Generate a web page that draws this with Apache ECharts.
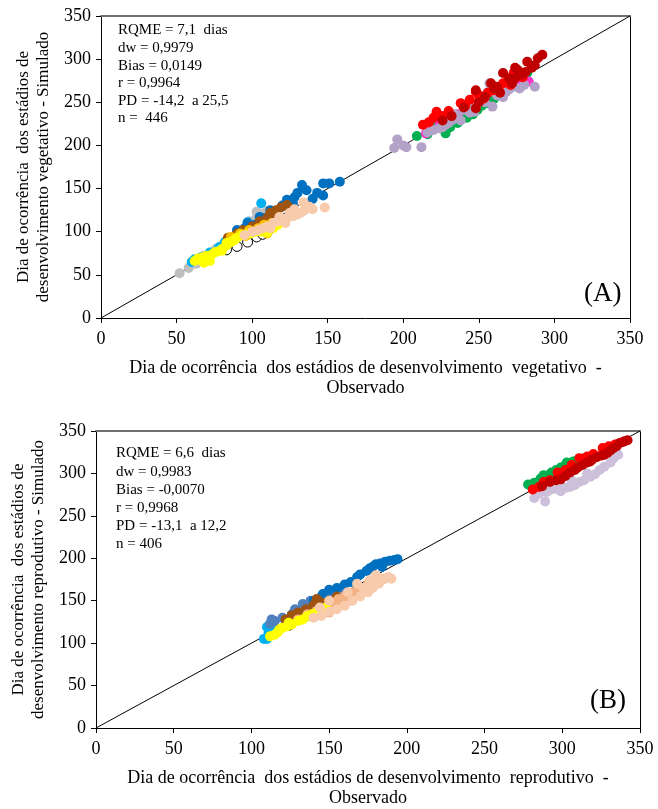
<!DOCTYPE html>
<html>
<head>
<meta charset="utf-8">
<script src="https://cdn.jsdelivr.net/npm/echarts@6/dist/echarts.min.js"></script>
<style>
  html, body { margin: 0; padding: 0; background: #fff; }
  #chart { width: 658px; height: 809px; }
</style>
</head>
<body>
<div id="chart"></div>
<script>
// Axis ticks shared by both panels
const axisTicks = [0, 50, 100, 150, 200, 250, 300, 350];

// Panel A — vegetative stages: [observed, simulated] day pairs per group
const vegGray = [[52,52],[58,58],[60,62],[63,63],[68,72],[70,70],[72,74],[76,80],[80,84],[84,88],[86,94],[88,92],[92,97],[96,100],[98,112],[100,106],[103,116],[103,123],[107,121],[110,124],[120,131]];
const vegLightBlue = [[60,65],[62,68],[66,70],[72,76],[78,82],[82,88],[90,98],[97,111],[100,104],[106,133]];
const vegBlue = [[90,102],[95,104],[97,110],[102,108],[105,117],[108,116],[112,125],[116,122],[120,130],[123,137],[127,133],[128,140],[130,145],[133,154],[136,148],[140,138],[143,145],[147,142],[147,156],[151,156],[158,158]];
const vegBrown = [[84,93],[90,98],[94,102],[100,106],[105,112],[110,116],[112,122],[114,120],[116,125],[119,128],[123,131],[125,127]];
const vegOrange = [[86,94],[92,98],[96,95],[98,102],[104,104],[108,108],[110,98],[113,110],[118,112]];
const vegOpen = [[83,79],[90,83],[97,88],[103,94],[107,97],[110,100]];
const vegYellow = [[62,66],[64,69],[67,70],[68,64],[70,72],[72,66],[73,73],[75,76],[77,77],[80,78],[80,80],[83,84],[83,87],[86,88],[88,90],[90,93],[93,96],[96,97],[99,98],[102,100],[106,100],[110,99],[114,104],[117,108],[120,111]];
const vegPeach = [[95,96],[100,100],[104,102],[107,104],[110,106],[112,104],[114,110],[117,112],[118,117],[120,113],[122,110],[123,116],[125,122],[127,118],[128,126],[130,120],[132,122],[134,124],[134,134],[136,127],[138,129],[140,126],[148,128]];
const vegGreen = [[209,211],[216,213],[220,226],[222,222],[228,214],[231,221],[236,226],[240,238],[242,232],[246,236],[249,241],[252,246],[256,249],[260,254],[265,262],[270,270],[276,276],[282,284]];
const vegMagenta = [[215,214],[218,218],[224,224],[236,236],[246,248],[254,255],[262,263],[267,262],[276,272],[283,274]];
const vegLavender = [[194,197],[196,207],[200,200],[202,198],[212,198],[216,215],[220,218],[224,220],[226,221],[228,224],[230,226],[232,229],[234,236],[236,232],[238,229],[240,241],[244,238],[244,246],[247,239],[248,245],[251,258],[254,250],[256,262],[257,272],[259,245],[262,258],[266,256],[268,262],[270,265],[273,268],[277,266],[280,270],[287,268]];
const vegRed = [[213,224],[217,227],[220,232],[222,239],[226,234],[230,240],[238,249],[241,246],[244,253],[248,262],[250,258],[253,254],[256,261],[260,264],[263,267],[266,272],[269,274],[271,270],[273,284],[276,282],[279,279]];
const vegDarkRed = [[226,229],[232,234],[240,244],[248,243],[248,264],[250,250],[254,256],[258,272],[260,266],[262,268],[264,261],[266,284],[270,278],[272,272],[274,278],[274,290],[276,287],[278,282],[281,285],[282,297],[285,290],[287,293],[289,301],[292,305]];

// Panel B — reproductive stages
const repLightBlue = [[108,105],[110,105],[110,119],[111,112],[113,116],[116,113],[122,122],[128,128],[134,133]];
const repSteelBlue = [[112,123],[113,128],[115,126],[120,130],[126,134],[128,140],[133,146],[138,150],[145,155],[152,160],[158,165]];
const repBlue = [[140,150],[146,158],[150,163],[155,165],[160,169],[164,172],[168,178],[170,181],[174,185],[176,188],[178,190],[180,193],[183,194],[184,190],[186,196],[189,197],[192,198],[194,199]];
const repBrown = [[122,128],[126,133],[130,136],[135,140],[140,145],[142,152],[145,148],[150,150],[155,155]];
const repOrange = [[130,128],[136,134],[142,138],[148,142],[150,136],[152,148],[156,152],[158,148],[160,155],[164,150],[165,160],[170,165],[175,170],[180,172],[185,176]];
const repOpen = [[117,115],[124,121],[135,132],[140,142],[150,150]];
const repYellow = [[112,108],[115,110],[117,113],[118,116],[120,118],[123,120],[124,124],[126,122],[130,126],[133,128],[136,132],[139,134],[142,136],[145,140],[148,142]];
const repPeach = [[140,130],[144,142],[145,132],[150,137],[150,150],[155,140],[160,144],[162,160],[165,150],[168,170],[170,155],[172,165],[175,160],[176,174],[178,165],[180,180],[182,170],[185,175],[188,178],[190,176]];
const repGreen = [[278,287],[282,289],[284,285],[286,294],[288,298],[291,297],[293,301],[296,304],[299,307],[302,310],[303,313],[307,314],[310,316],[314,318]];
const repLavender = [[282,271],[285,276],[289,267],[290,278],[293,281],[296,282],[298,288],[299,279],[302,283],[305,284],[306,292],[308,286],[311,290],[314,292],[316,300],[318,296],[321,299],[324,304],[327,308],[331,313],[333,318],[336,322]];
const repRed = [[281,281],[285,284],[288,290],[292,292],[297,301],[302,304],[306,310],[311,318],[316,320],[320,323],[326,330],[330,332],[334,334],[339,337]];
const repDarkRed = [[287,285],[292,290],[296,292],[299,293],[302,297],[305,301],[308,304],[310,307],[313,310],[316,313],[318,314],[319,316],[322,319],[325,321],[327,322],[329,324],[331,327],[333,330],[335,332],[337,336],[340,338],[342,339]];

// 1:1 reference line
const identityLine = [[0,0],[350,350]];

const statsA = ['RQME = 7,1  dias', 'dw = 0,9979', 'Bias = 0,0149', 'r = 0,9964', 'PD = -14,2  a 25,5', 'n =  446'];
const statsB = ['RQME = 6,6  dias', 'dw = 0,9983', 'Bias = -0,0070', 'r = 0,9968', 'PD = -13,1  a 12,2', 'n = 406'];

const FONT = '"Liberation Serif", "Times New Roman", serif';

function scatter(data, color, idx, opts) {
  opts = opts || {};
  return {
    type: 'scatter',
    xAxisIndex: idx, yAxisIndex: idx,
    data: data,
    symbolSize: 10,
    silent: true,
    itemStyle: {
      color: color,
      borderColor: opts.border || color,
      borderWidth: opts.border ? 1 : 0,
      opacity: 1
    },
    z: 3
  };
}

function valueAxis(idx, name, isX) {
  return {
    type: 'value',
    gridIndex: idx,
    min: 0, max: 350, interval: 50,
    name: name,
    nameLocation: 'middle',
    nameGap: isX ? 40 : 47,
    nameTextStyle: { fontFamily: FONT, fontSize: isX ? 18 : 17, color: '#000', lineHeight: 20 },
    axisLine: { show: true, onZero: false, lineStyle: { color: '#000', width: 1 } },
    axisTick: { show: true, inside: false, length: 5, lineStyle: { color: '#000' } },
    axisLabel: {
      fontFamily: FONT, fontSize: 18, color: '#000', margin: isX ? 12 : 10,
      formatter: v => axisTicks.includes(v) ? String(v) : ''
    },
    splitLine: { show: false }
  };
}

function frameAxis(idx, isX) {
  return {
    type: 'value',
    gridIndex: idx,
    position: isX ? 'top' : 'right',
    min: 0, max: 350,
    axisLine: { show: true, onZero: false, lineStyle: isX ? { color: '#6e6e6e', width: 2 } : { color: '#000', width: 1 } },
    axisTick: { show: false },
    axisLabel: { show: false },
    splitLine: { show: false }
  };
}

function statsText(lines, left, top, gap) {
  return lines.map((t, i) => ({
    type: 'text', left: left, top: top + i * gap,
    style: { text: t, font: '15px ' + FONT, fill: '#000' }
  }));
}

const chart = echarts.init(document.getElementById('chart'), null, { renderer: 'canvas' });

chart.setOption({
  backgroundColor: '#fff',
  animation: false,
  grid: [
    { left: 101, right: 28, top: 16, bottom: 491 },
    { left: 96, right: 18, top: 431, bottom: 80 }
  ],
  xAxis: [
    valueAxis(0, 'Dia de ocorrência  dos estádios de desenvolvimento  vegetativo  -\nObservado', true),
    valueAxis(1, 'Dia de ocorrência  dos estádios de desenvolvimento  reprodutivo  -\nObservado', true),
    frameAxis(0, true),
    frameAxis(1, true)
  ],
  yAxis: [
    valueAxis(0, 'Dia de ocorrência  dos estádios de\ndesenvolvimento vegetativo - Simulado', false),
    valueAxis(1, 'Dia de ocorrência  dos estádios de\ndesenvolvimento reprodutivo - Simulado', false),
    frameAxis(0, false),
    frameAxis(1, false)
  ],
  series: [
    { type: 'line', xAxisIndex: 0, yAxisIndex: 0, data: identityLine, symbol: 'none', silent: true,
      lineStyle: { color: '#000', width: 1 }, z: 2 },
    { type: 'line', xAxisIndex: 1, yAxisIndex: 1, data: identityLine, symbol: 'none', silent: true,
      lineStyle: { color: '#000', width: 1 }, z: 2 },

    scatter(vegGray, '#BFBFBF', 0),
    scatter(vegOpen, '#FFFFFF', 0, { border: '#000' }),
    scatter(vegLightBlue, '#00B0F0', 0),
    scatter(vegBlue, '#0070C0', 0),
    scatter(vegBrown, '#9E5410', 0),
    scatter(vegOrange, '#FFC000', 0),
    scatter(vegYellow, '#FFFF00', 0),
    scatter(vegPeach, '#F8CBAD', 0),
    scatter(vegGreen, '#00B050', 0),
    scatter(vegMagenta, '#FF33CC', 0),
    scatter(vegLavender, '#B3A2C7', 0),
    scatter(vegRed, '#FF0000', 0),
    scatter(vegDarkRed, '#C00000', 0),

    scatter(repOpen, '#FFFFFF', 1, { border: '#000' }),
    scatter(repLightBlue, '#00B0F0', 1),
    scatter(repSteelBlue, '#4F81BD', 1),
    scatter(repBlue, '#0070C0', 1),
    scatter(repBrown, '#9E5410', 1),
    scatter(repOrange, '#F4B183', 1),
    scatter(repYellow, '#FFFF00', 1),
    scatter(repPeach, '#F8CBAD', 1),
    scatter(repLavender, '#CCC0DA', 1),
    scatter(repGreen, '#00B050', 1),
    scatter(repRed, '#FF0000', 1),
    scatter(repDarkRed, '#C00000', 1)
  ],
  graphic: [
    ...statsText(statsA, 118, 23, 17.6),
    ...statsText(statsB, 116, 446, 18.2),
    { type: 'text', left: 584, top: 280, style: { text: '(A)', font: '27px ' + FONT, fill: '#000' } },
    { type: 'text', left: 590, top: 687, style: { text: '(B)', font: '27px ' + FONT, fill: '#000' } }
  ]
});
</script>
</body>
</html>
